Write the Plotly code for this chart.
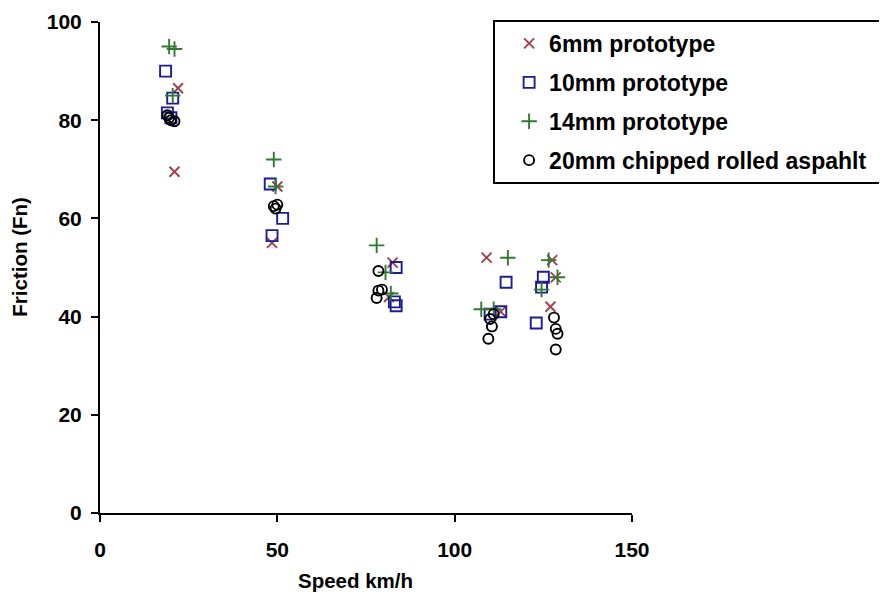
import plotly.graph_objects as go

# Data
speed_6mm = [22, 21, 50, 48.5, 82.5, 81.5, 109, 113, 127.5, 128.5, 127]
fric_6mm = [86.5, 69.5, 66.5, 55, 51, 44, 52, 41, 51.5, 48, 42]

speed_10mm = [18.5, 20.5, 19, 20, 48, 51.5, 48.5, 83.5, 83, 83.5, 110, 113, 114.5, 125, 124.5, 123]
fric_10mm = [90, 84.5, 81.5, 80.5, 67, 60, 56.5, 50, 43, 42.2, 40.5, 41, 47, 48, 46, 38.7]

speed_14mm = [19.5, 21, 20.5, 49, 49.5, 78, 80.5, 82, 107.5, 111, 115, 126.5, 129, 124.5]
fric_14mm = [95, 94.5, 85, 72, 66.5, 54.5, 49, 44.7, 41.5, 41.5, 52, 51.5, 48, 45.5]

speed_20mm = [19, 19.5, 21, 20, 49, 49.5, 50, 78.5, 78.5, 79.5, 78, 110, 110.5, 109.5, 111, 128, 128.5, 129, 128.5]
fric_20mm = [81, 80.5, 79.8, 80, 62.5, 62, 62.8, 49.3, 45.3, 45.5, 43.8, 39.5, 38, 35.5, 40.5, 39.8, 37.5, 36.5, 33.3]

series_names = ["6mm prototype", "10mm prototype", "14mm prototype", "20mm chipped rolled aspahlt"]
x_ticks = [0, 50, 100, 150]
y_ticks = [0, 20, 40, 60, 80, 100]
x_title = "Speed km/h"
y_title = "Friction (Fn)"

FONT = "Liberation Sans, Arial, sans-serif"

fig = go.Figure()
styles = [
    (speed_6mm, fric_6mm, "x-thin-open", "#a3404f", 10),
    (speed_10mm, fric_10mm, "square-open", "#1c1c96", 11),
    (speed_14mm, fric_14mm, "cross-thin-open", "#2f7a2f", 11),
    (speed_20mm, fric_20mm, "circle-open", "#000000", 10),
]
for i, (xs, ys, sym, col, sz) in enumerate(styles):
    fig.add_trace(go.Scatter(
        x=xs, y=ys, mode="markers", name=series_names[i], legendgroup=f"g{i}",
        marker=dict(symbol=sym, size=sz, color=col, line=dict(color=col, width=1.9)),
    ))

# legend frame
fig.add_shape(type="rect", xref="paper", yref="paper",
              x0=0.7406, x1=1.4718, y0=0.672, y1=1.002,
              line=dict(color="black", width=2), fillcolor="rgba(0,0,0,0)", layer="above")

# axis titles
fig.add_annotation(text=f"<b>{y_title}</b>", xref="paper", yref="paper", x=0, y=0.522,
                   xshift=-80, textangle=-90, showarrow=False, xanchor="center", yanchor="middle",
                   font=dict(family=FONT, size=20.5, color="black"))
fig.add_annotation(text=f"<b>{x_title}</b>", xref="paper", yref="paper", x=0.481, y=0,
                   yshift=-67, showarrow=False, xanchor="center", yanchor="middle",
                   font=dict(family=FONT, size=20.5, color="black"))

fig.update_layout(
    width=887, height=597,
    margin=dict(l=92, r=263, t=14, b=92, autoexpand=False),
    paper_bgcolor="white", plot_bgcolor="white",
    font=dict(family=FONT, size=20, color="black"),
    showlegend=True,
    legend=dict(
        x=0.769, y=1, xanchor="left", yanchor="top",
        borderwidth=0, bgcolor="rgba(0,0,0,0)",
        font=dict(family=FONT, size=23, color="black", weight="bold"),
        tracegroupgap=6,
    ),
    xaxis=dict(
        range=[0, 150], tickvals=x_ticks, showgrid=False, zeroline=False,
        showline=True, linecolor="black", linewidth=2,
        ticks="outside", ticklen=7, tickwidth=2, tickcolor="black",
        tickfont=dict(family=FONT, size=21, weight="bold"),
        ticklabelstandoff=10,
    ),
    yaxis=dict(
        range=[0, 100], tickvals=y_ticks, showgrid=False, zeroline=False,
        showline=True, linecolor="black", linewidth=2,
        ticks="outside", ticklen=7, tickwidth=2, tickcolor="black",
        tickfont=dict(family=FONT, size=21, weight="bold"),
        ticklabelstandoff=5,
    ),
)

fig.write_html("out.html")
